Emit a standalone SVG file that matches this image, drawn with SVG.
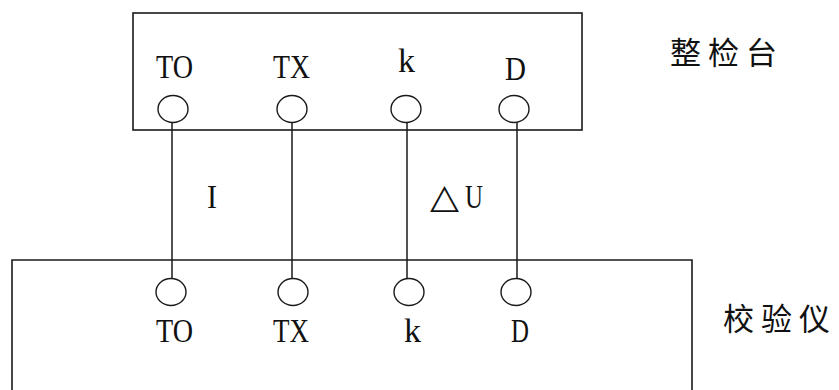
<svg xmlns="http://www.w3.org/2000/svg" width="839" height="390" viewBox="0 0 839 390">
<style>
.box{fill:none;stroke:#1a1a1a;stroke-width:1.6}
.term{fill:#fff;stroke:#1a1a1a;stroke-width:1.4}
.wire{stroke:#1a1a1a;stroke-width:1.5;fill:none}
.lbl{font-family:"Liberation Serif","DejaVu Serif",serif;font-size:34px;fill:#111}
.sym{font-family:"DejaVu Sans","Liberation Serif",serif;font-size:34px;fill:#111}
.cn{font-family:"Noto Sans CJK SC","Noto Sans CJK JP",sans-serif;font-size:31px;letter-spacing:7px;fill:#111}
</style>
<rect width="839" height="390" fill="#fff"/>
<g id="connectors">
<line class="wire" x1="172" y1="123" x2="172" y2="278"/>
<line class="wire" x1="292" y1="123" x2="292" y2="278"/>
<line class="wire" x1="407" y1="123" x2="407" y2="278"/>
<line class="wire" x1="517" y1="123" x2="517" y2="278"/>
<text class="lbl" x="207" y="208" textLength="10" lengthAdjust="spacingAndGlyphs">I</text>
<text class="sym" x="430" y="208" textLength="29" lengthAdjust="spacingAndGlyphs">△</text>
<text class="lbl" x="465" y="208" textLength="18" lengthAdjust="spacingAndGlyphs">U</text>
</g>
<g id="bench">
<rect class="box" x="133" y="13" width="449" height="117"/>
<text class="lbl" x="156" y="78" textLength="37" lengthAdjust="spacingAndGlyphs">TO</text>
<text class="lbl" x="273" y="78" textLength="37" lengthAdjust="spacingAndGlyphs">TX</text>
<text class="lbl" x="398" y="72" textLength="17" lengthAdjust="spacingAndGlyphs">k</text>
<text class="lbl" x="505" y="80" textLength="21" lengthAdjust="spacingAndGlyphs">D</text>
<ellipse class="term" cx="173" cy="109" rx="15" ry="13.5"/>
<ellipse class="term" cx="292" cy="109" rx="15" ry="13.5"/>
<ellipse class="term" cx="406" cy="109" rx="15" ry="13.5"/>
<ellipse class="term" cx="514" cy="109" rx="15" ry="13.5"/>
<text class="cn" x="670" y="64">整检台</text>
</g>
<g id="calibrator">
<path class="box" d="M12,392 V260 H692 V392"/>
<ellipse class="term" cx="171" cy="292" rx="15" ry="13.5"/>
<ellipse class="term" cx="293" cy="292" rx="15" ry="13.5"/>
<ellipse class="term" cx="409" cy="292" rx="15" ry="13.5"/>
<ellipse class="term" cx="516" cy="292" rx="15" ry="13.5"/>
<text class="lbl" x="156" y="342" textLength="37" lengthAdjust="spacingAndGlyphs">TO</text>
<text class="lbl" x="273" y="342" textLength="36" lengthAdjust="spacingAndGlyphs">TX</text>
<text class="lbl" x="404" y="342" textLength="17" lengthAdjust="spacingAndGlyphs">k</text>
<text class="lbl" x="511" y="342" textLength="18" lengthAdjust="spacingAndGlyphs">D</text>
<text class="cn" x="723" y="330">校验仪</text>
</g>
</svg>
